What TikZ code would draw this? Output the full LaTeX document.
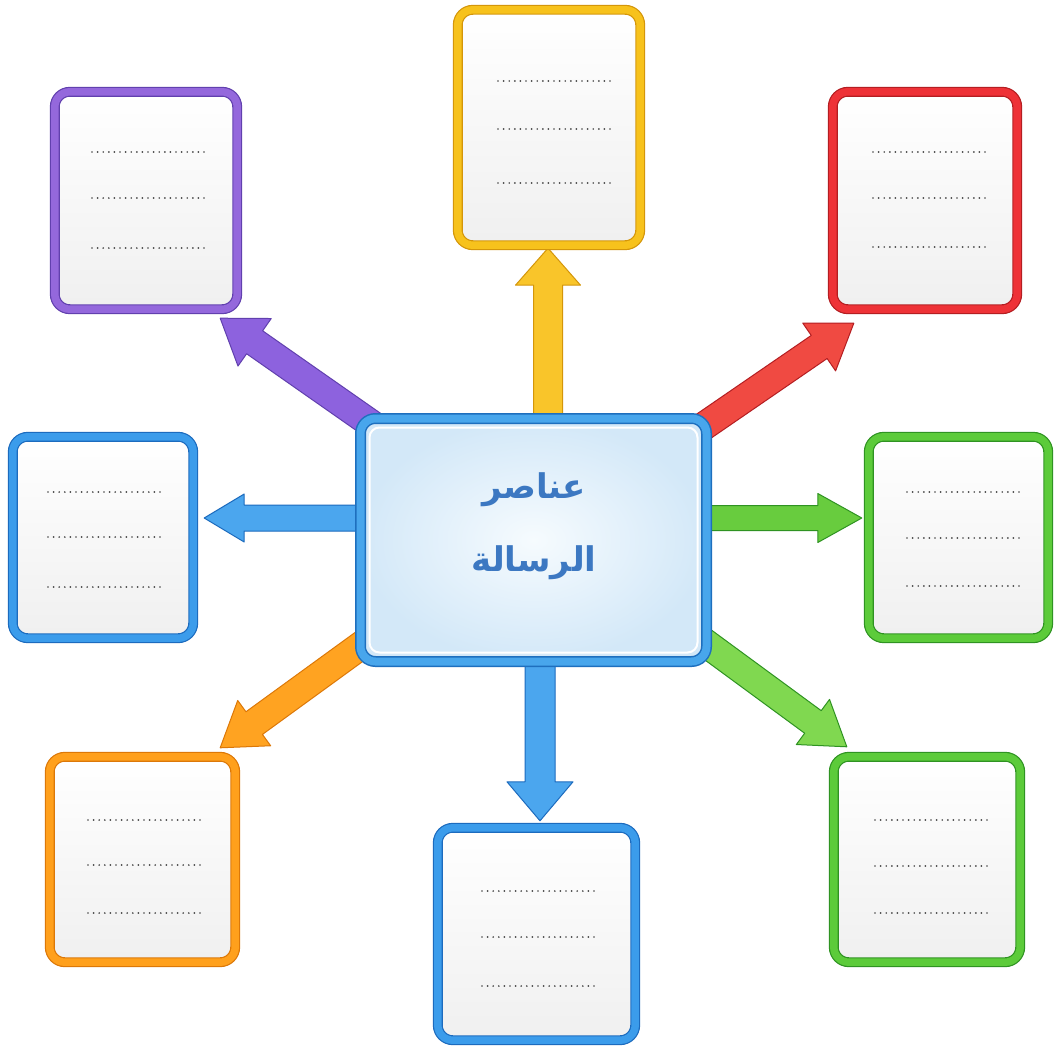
\documentclass[tikz,border=0pt]{standalone}
\usepackage{fontspec}
\usetikzlibrary{calc}
\newfontfamily\arabicfont[Script=Arabic]{DejaVu Sans}
\TeXXeTstate=1
\definecolor{yelM}{HTML}{F7C21C}\definecolor{yelD}{HTML}{D4960A}
\definecolor{purM}{HTML}{9468DC}\definecolor{purD}{HTML}{6140AE}
\definecolor{redM}{HTML}{EE3237}\definecolor{redD}{HTML}{B41E22}
\definecolor{bluM}{HTML}{3B9CEB}\definecolor{bluD}{HTML}{1C6BBE}
\definecolor{grnM}{HTML}{5CCB3A}\definecolor{grnD}{HTML}{2F9322}
\definecolor{orgM}{HTML}{FFA01C}\definecolor{orgD}{HTML}{DC7808}
\definecolor{yelA}{HTML}{F9C52A}\definecolor{purA}{HTML}{8D62DE}
\definecolor{redA}{HTML}{F04A42}\definecolor{bluA}{HTML}{4BA6EE}
\definecolor{grnA}{HTML}{68CC3E}\definecolor{grnB}{HTML}{80D850}
\definecolor{orgA}{HTML}{FFA321}
\definecolor{ctrM}{HTML}{48A6EC}\definecolor{ctrD}{HTML}{1E6FBE}
\definecolor{ctrIn}{HTML}{F6FBFE}\definecolor{ctrOut}{HTML}{D3E8F8}
\definecolor{ttl}{HTML}{3C78C2}
\pgfdeclarelayer{back}\pgfdeclarelayer{bg}\pgfsetlayers{back,bg,main}
\tikzset{
  card/.style 2 args={draw=#2, double=#1, double distance=7.5pt, line width=1.2pt,
    rounded corners=15pt, top color=white, bottom color=black!6,
    inner sep=0pt, outer sep=0pt},
  hub/.style={draw=ctrD, double=ctrM, double distance=8pt, line width=1.5pt,
    rounded corners=15pt, inner color=ctrIn, outer color=ctrOut,
    inner sep=0pt, outer sep=0pt, minimum width=346pt, minimum height=243pt},
  dotline/.style={draw=black!72, line width=1.9pt, dash pattern=on 0pt off 5.6pt, line cap=round},
  arrowbody/.style={line width=1pt, line join=round},
  title/.style={text=ttl, font=\arabicfont\bfseries\fontsize{34}{40}\selectfont, inner sep=0pt}
}
% #1 tail, #2 tip, #3 shaft half width, #4 head half width, #5 head length, #6 fill, #7 stroke
\newcommand\fatarrow[7]{%
  \coordinate (fa-tail) at #1;
  \coordinate (fa-tip) at #2;
  \coordinate (fa-hb) at ($(fa-tip)!#5pt!(fa-tail)$);
  \draw[arrowbody, fill=#6, draw=#7]
    ($(fa-tail)!#3pt!90:(fa-tip)$) -- ($(fa-hb)!#3pt!90:(fa-tip)$) --
    ($(fa-hb)!#4pt!90:(fa-tip)$) -- (fa-tip) --
    ($(fa-hb)!#4pt!-90:(fa-tip)$) -- ($(fa-hb)!#3pt!-90:(fa-tip)$) --
    ($(fa-tail)!#3pt!-90:(fa-tip)$) -- cycle;
}
% #1 node, #2 x start, #3 #4 #5 y offsets
\newcommand\dotrows[5]{%
  \foreach \yy in {#3,#4,#5}{\draw[dotline] ($(#1.center)+(#2,\yy)$) -- ++(113,0);}
}
\begin{document}
\begin{tikzpicture}[x=1pt,y=-1pt]
\useasboundingbox (0,0) rectangle (1055,1049);
\begin{pgfonlayer}{back}
\fill[white] (0,0) rectangle (1055,1049);
\end{pgfonlayer}

% boxes
\node[card={yelM}{yelD}, minimum width=182.4pt, minimum height=235.4pt] (yel) at (549,127.5) {};
\node[card={purM}{purD}, minimum width=182.4pt, minimum height=217.4pt] (pur) at (146,200.5) {};
\node[card={redM}{redD}, minimum width=184.4pt, minimum height=217.4pt] (red) at (925,200.5) {};
\node[card={bluM}{bluD}, minimum width=180.4pt, minimum height=201.4pt] (blu1) at (103,537.5) {};
\node[card={grnM}{grnD}, minimum width=179.4pt, minimum height=201.4pt] (grn1) at (958.5,537.5) {};
\node[card={orgM}{orgD}, minimum width=185.4pt, minimum height=205.4pt] (org) at (142.5,859.5) {};
\node[card={bluM}{bluD}, minimum width=197.4pt, minimum height=212.4pt] (blu2) at (536.5,934) {};
\node[card={grnM}{grnD}, minimum width=186.4pt, minimum height=205.4pt] (grn2) at (927,859.5) {};

% hub
\node[hub] (ctr) at (533.5,540) {};
\draw[white, line width=2pt, rounded corners=10pt]
  ($(ctr.south west)+(9,-9)$) rectangle ($(ctr.north east)+(-9,9)$);
\node[title] (t1) at (534,490) {\beginR عناصر\endR};
\node[title] (t2) at (534,563) {\beginR الرسالة\endR};

% dotted writing lines
\dotrows{yel}{-51}{-46.5}{1.5}{55.5}
\dotrows{pur}{-54}{-48.5}{-2.5}{47.5}
\dotrows{red}{-52}{-48.5}{-2.5}{46.5}
\dotrows{blu1}{-55}{-45.5}{-0.5}{49.5}
\dotrows{grn1}{-51.5}{-45.5}{0.5}{48.5}
\dotrows{org}{-54.5}{-39.5}{5.5}{53.5}
\dotrows{blu2}{-54.5}{-43}{3}{52}
\dotrows{grn2}{-52}{-39.5}{6.5}{53.5}

% arrows (behind)
\begin{pgfonlayer}{bg}
\fatarrow{($(ctr.north)+(14.5,26.5)$)}{($(yel.south)+(-1,3)$)}{14.5}{32.5}{37}{yelA}{yelD}
\fatarrow{($(ctr.south)+(6.5,-26.5)$)}{($(blu2.north)+(3.5,-7)$)}{15}{33}{39}{bluA}{bluD}
\fatarrow{($(ctr.west)+(24.5,-22)$)}{($(blu1.east)+(11,-19.5)$)}{13}{24}{40}{bluA}{bluD}
\fatarrow{($(ctr.east)+(-21.5,-22)$)}{($(grn1.west)+(-7,-19.5)$)}{12.5}{24.5}{44}{grnA}{grnD}
\fatarrow{($(ctr.north west)+(29.5,18.5)$)}{($(pur.south east)+(-17,9)$)}{14}{29}{42}{purA}{purD}
\fatarrow{($(ctr.north east)+(-18.5,18.5)$)}{($(red.south west)+(21,14)$)}{14}{29}{42}{redA}{redD}
\fatarrow{($(ctr.south west)+(24.5,-33.5)$)}{($(org.north east)+(-15,-9)$)}{14}{28}{42}{orgA}{orgD}
\fatarrow{($(ctr.south east)+(-21.5,-33.5)$)}{($(grn2.north west)+(13,-10)$)}{14}{28}{42}{grnB}{grnD}
\end{pgfonlayer}
\end{tikzpicture}
\end{document}
